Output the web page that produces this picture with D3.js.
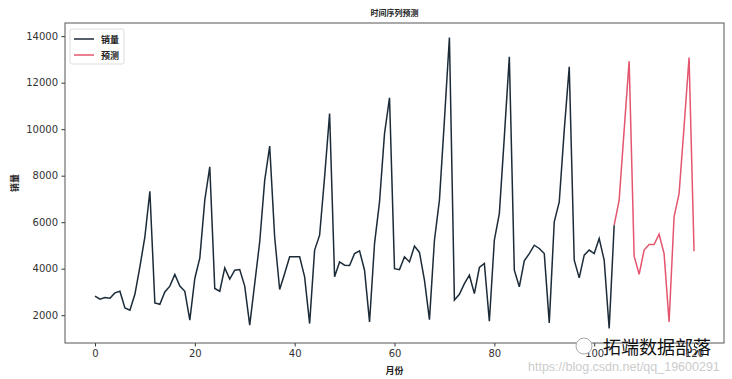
<!DOCTYPE html>
<html>

<head>
    <meta charset="UTF-8">
    <title>时间序列预测</title>
    <style>
        body {
            margin: 0;
            background: #fff;
        }

        .axis text {
            font-family: "DejaVu Sans", sans-serif;
            font-size: 10px;
            fill: #333;
        }

        .axis line {
            stroke: #333;
        }

        .axis path {
            display: none;
        }

        .line {
            fill: none;
            stroke-width: 1.5px;
        }

        .cjk {
            font-family: "Noto Sans CJK SC", sans-serif;
            font-weight: bold;
        }
    </style>
</head>

<body>
    <svg id="chart" width="732" height="379"></svg>

    <script src="https://cdn.jsdelivr.net/npm/d3@7"></script>

    <script>
        // 销量, months 0..104
        const sales = [2820, 2690, 2760, 2730, 2960, 3030, 2310, 2215, 2900, 4080, 5370, 7330,
            2530, 2470, 3000, 3250, 3750, 3250, 3030, 1785, 3580, 4450, 6950, 8380,
            3150, 3030, 4035, 3550, 3935, 3965, 3250, 1570, 3360, 5150, 7800, 9270,
            5350, 3105, 3790, 4510, 4510, 4510, 3650, 1640, 4800, 5440, 7950, 10670,
            3650, 4290, 4150, 4140, 4650, 4765, 3935, 1710, 5080, 6870, 9810, 11350,
            4000, 3960, 4510, 4290, 4970, 4700, 3505, 1810, 5225, 6950, 10390, 13940,
            2650, 2900, 3360, 3720, 2930, 4050, 4225, 1740, 5225, 6370, 9670, 13110,
            3935, 3220, 4335, 4650, 5010, 4870, 4650, 1670, 6015, 6870, 9960, 12680,
            4365, 3605, 4580, 4800, 4650, 5300, 4365, 1430, 5870
        ];

        // 预测, months 104..120
        const forecastStart = 104;
        const forecast = [5870, 6950, 9960, 12925, 4540, 3760, 4800, 5040, 5040, 5480,
            4650, 1710, 6230, 7230, 10100, 13080, 4750
        ];

        const xTicks = [0, 20, 40, 60, 80, 100, 120];
        const yTicks = [2000, 4000, 6000, 8000, 10000, 12000, 14000];

        const salesData = sales.map((v, i) => ({ t: i, v: v }));
        const forecastData = forecast.map((v, i) => ({ t: forecastStart + i, v: v }));
        const all = salesData.concat(forecastData);

        const margin = { top: 23, right: 8, bottom: 36, left: 65 };
        const width = 732 - margin.left - margin.right;
        const height = 379 - margin.top - margin.bottom;

        function padded(ext) {
            const pad = (ext[1] - ext[0]) * 0.05;
            return [ext[0] - pad, ext[1] + pad];
        }

        const x = d3.scaleLinear()
            .domain(padded(d3.extent(all, d => d.t)))
            .range([0, width]);

        const y = d3.scaleLinear()
            .domain(padded(d3.extent(all, d => d.v)))
            .range([height, 0]);

        const svg = d3.select('#chart');

        const g = svg.append('g')
            .attr('transform', `translate(${ margin.left },${ margin.top })`);

        g.append('g')
            .attr('class', 'axis')
            .attr('transform', `translate(0,${ height })`)
            .call(d3.axisBottom(x).tickValues(xTicks).tickSize(3.5).tickPadding(3.5).tickFormat(d3.format('d')));

        g.append('g')
            .attr('class', 'axis')
            .call(d3.axisLeft(y).tickValues(yTicks).tickSize(3.5).tickPadding(3.5).tickFormat(d3.format('d')));

        const lineGenerator = d3.line()
            .x(d => x(d.t))
            .y(d => y(d.v));

        g.append('path')
            .datum(salesData)
            .attr('class', 'line')
            .attr('d', lineGenerator)
            .style('stroke', '#1c2b38');

        g.append('path')
            .datum(forecastData)
            .attr('class', 'line')
            .attr('d', lineGenerator)
            .style('stroke', '#e4566f');

        // frame
        g.append('rect')
            .attr('width', width)
            .attr('height', height)
            .attr('fill', 'none')
            .attr('stroke', '#555')
            .attr('stroke-width', 1);

        // legend
        const legend = g.append('g')
            .attr('transform', 'translate(5,6)');

        legend.append('rect')
            .attr('width', 54)
            .attr('height', 35)
            .attr('rx', 2)
            .attr('fill', '#fff')
            .attr('stroke', '#ddd');

        const items = [{ name: '销量', color: '#1c2b38' }, { name: '预测', color: '#e4566f' }];

        items.forEach((d, i) => {
            const row = legend.append('g')
                .attr('transform', `translate(0,${ 10 + i * 16 })`);
            row.append('line')
                .attr('x1', 4)
                .attr('x2', 24)
                .attr('stroke', d.color)
                .attr('stroke-width', 1.5);
            row.append('text')
                .attr('class', 'cjk')
                .attr('x', 31)
                .attr('y', 3.5)
                .attr('font-size', 9)
                .attr('fill', '#222')
                .text(d.name);
        });

        // title and axis labels
        svg.append('text')
            .attr('class', 'cjk')
            .attr('x', margin.left + width / 2)
            .attr('y', 16)
            .attr('text-anchor', 'middle')
            .attr('font-size', 8)
            .attr('fill', '#222')
            .text('时间序列预测');

        svg.append('text')
            .attr('class', 'cjk')
            .attr('x', margin.left + width / 2)
            .attr('y', 374)
            .attr('text-anchor', 'middle')
            .attr('font-size', 9)
            .attr('fill', '#222')
            .text('月份');

        svg.append('text')
            .attr('class', 'cjk')
            .attr('transform', `translate(18,${ margin.top + height / 2 }) rotate(-90)`)
            .attr('text-anchor', 'middle')
            .attr('font-size', 9)
            .attr('fill', '#222')
            .text('销量');

        // watermark (sits over the plot corner, as in the source image)
        const wm = svg.append('g');
        wm.append('circle')
            .attr('cx', 584)
            .attr('cy', 346)
            .attr('r', 8)
            .attr('fill', '#fff')
            .attr('stroke', '#aaa');
        wm.append('text')
            .attr('x', 603)
            .attr('y', 354)
            .attr('font-family', '"Noto Sans CJK SC", sans-serif')
            .attr('font-size', 18)
            .attr('fill', '#111')
            .text('拓端数据部落');
        wm.append('text')
            .attr('x', 528)
            .attr('y', 371)
            .attr('font-family', '"Liberation Sans", Arial, sans-serif')
            .attr('font-size', 12.5)
            .attr('fill', '#ccc')
            .text('https://blog.csdn.net/qq_19600291');
    </script>
</body>

</html>
